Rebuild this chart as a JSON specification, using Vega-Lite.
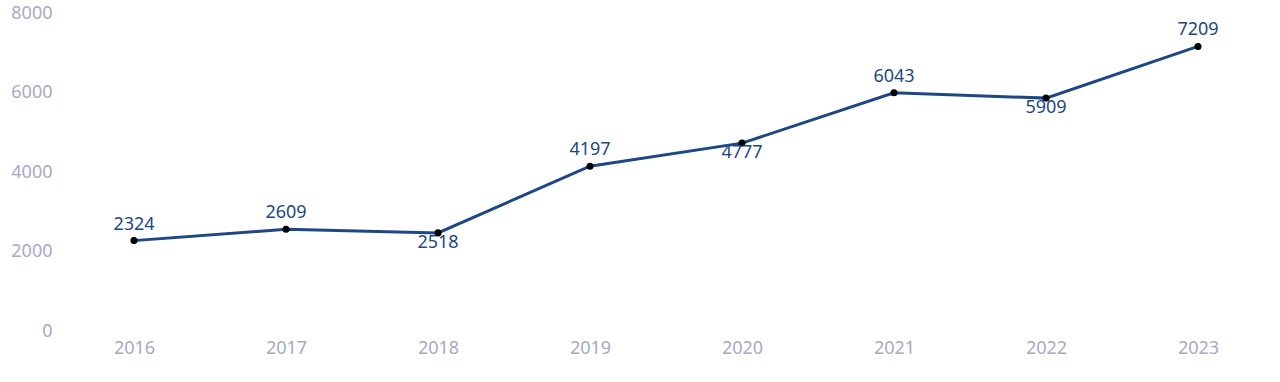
{
  "$schema": "https://vega.github.io/schema/vega-lite/v6.json",
  "width": 1216,
  "height": 318,
  "autosize": {"type": "none"},
  "padding": {"left": 58, "top": 15, "right": 6, "bottom": 49},
  "config": {
    "view": {"stroke": null},
    "font": "Noto Sans",
    "axis": {"labelFont": "Noto Sans", "labelFontSize": 18, "labelColor": "#a7aac4", "domain": false, "ticks": false, "grid": false, "title": null}
  },
  "data": {
    "values": [
      {"year": "2016", "value": 2324},
      {"year": "2017", "value": 2609},
      {"year": "2018", "value": 2518},
      {"year": "2019", "value": 4197},
      {"year": "2020", "value": 4777},
      {"year": "2021", "value": 6043},
      {"year": "2022", "value": 5909},
      {"year": "2023", "value": 7209}
    ]
  },
  "encoding": {
    "x": {"field": "year", "type": "ordinal", "scale": {"type": "point", "padding": 0.5}, "axis": {"labelAngle": 0, "labelPadding": 6}},
    "y": {"field": "value", "type": "quantitative", "scale": {"domain": [0, 8000], "nice": false}, "axis": {"values": [0, 2000, 4000, 6000, 8000], "format": "d", "labelPadding": 6, "labelOffset": -2}}
  },
  "layer": [
    {"mark": {"type": "line", "color": "#1d4785", "strokeWidth": 3}},
    {"mark": {"type": "point", "filled": true, "color": "#000000", "size": 50, "opacity": 1}},
    {
      "transform": [{"filter": {"not": {"field": "year", "oneOf": ["2018", "2020", "2022"]}}}],
      "mark": {"type": "text", "fontSize": 18, "color": "#1d4785", "baseline": "bottom", "dy": -7},
      "encoding": {"text": {"field": "value", "type": "quantitative", "format": "d"}}
    },
    {
      "transform": [{"filter": {"field": "year", "oneOf": ["2018", "2020", "2022"]}}],
      "mark": {"type": "text", "fontSize": 18, "color": "#1d4785", "baseline": "top", "dy": 1},
      "encoding": {"text": {"field": "value", "type": "quantitative", "format": "d"}}
    }
  ]
}
